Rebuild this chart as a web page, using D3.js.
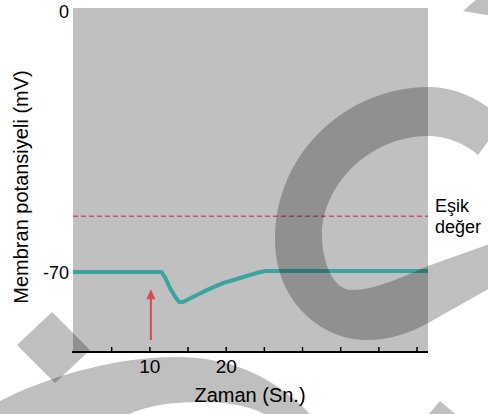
<!DOCTYPE html>
<html><head><meta charset="utf-8">
<script src="https://cdn.jsdelivr.net/npm/d3@7"></script>
<style>body{margin:0;background:#fff} svg{display:block;font-family:"Liberation Sans",Arial,sans-serif}</style>
</head><body><svg id="c" width="488" height="414"></svg>
<script>
// ---- data ----
const timeS       = [0, 11.6, 12.1, 12.7, 13.4, 13.9, 14.5, 15.7, 17.6, 19.7, 21.9, 24.1, 25.2, 46.5];
const potentialMV = [-70, -70, -71.6, -74.3, -76.7, -78.1, -78.0, -76.7, -74.8, -72.9, -71.6, -70.2, -69.7, -69.7];
const thresholdMV = -55;
const stimulusTime = 10.2;
const stimulusRange = [-88.3, -74.6];
const xTicks = [5, 10, 15, 20, 25, 30, 35, 40, 45];
const xTickLabels = ["", "10", "", "20", "", "", "", "", ""];
const yTicks = [0, -70];
const yTickLabels = ["0", "-70"];
const thresholdLabel = ["Eşik", "değer"];
const xTitle = "Zaman (Sn.)";
const yTitle = "Membran potansiyeli (mV)";

// ---- layout ----
const svg = d3.select("#c");
const L = 73, R = 428, T = 8, B = 352;
const x = d3.scaleLinear().domain([0, 46.5]).range([L, R]);
const y = d3.scaleLinear().domain([-91.5, 1]).range([B, T]);

svg.append("rect").attr("x", L).attr("y", T).attr("width", R - L).attr("height", B - T).attr("fill", "#c0c0c0");

// threshold
svg.append("line").attr("x1", x(0)).attr("x2", x(46.5)).attr("y1", y(thresholdMV)).attr("y2", y(thresholdMV))
  .attr("stroke", "#c8505c").attr("stroke-width", 1.5).attr("stroke-dasharray", "5,3");

// potential trace
const pts = timeS.map((t, i) => [t, potentialMV[i]]);
svg.append("path").datum(pts)
  .attr("d", d3.line().x(d => x(d[0])).y(d => y(d[1])))
  .attr("fill", "none").attr("stroke", "#3aa59d").attr("stroke-width", 4).attr("stroke-linejoin", "round");

// stimulus arrow
const ax = x(stimulusTime), ay0 = y(stimulusRange[0]), ay1 = y(stimulusRange[1]);
svg.append("line").attr("x1", ax).attr("x2", ax).attr("y1", ay0).attr("y2", ay1 + 6)
  .attr("stroke", "#d64a55").attr("stroke-width", 2);
svg.append("path").attr("d", d3.line()([[ax, ay1], [ax - 4.5, ay1 + 10], [ax + 4.5, ay1 + 10]]) + "Z")
  .attr("fill", "#d64a55");

// x axis
const xa = svg.append("g").attr("transform", `translate(0,${B})`)
  .call(d3.axisBottom(x).tickValues(xTicks).tickSizeInner(-5).tickSizeOuter(0)
    .tickFormat((d, i) => xTickLabels[i]));
xa.select(".domain").attr("stroke", "#000").attr("stroke-width", 2).attr("d", `M${L - 1},0H${R}`);
xa.selectAll(".tick line").attr("stroke", "#000").attr("stroke-width", 1.5);
xa.selectAll(".tick text").attr("y", 8).attr("font-size", 19).attr("font-family", "Liberation Sans, Arial, sans-serif").attr("fill", "#000");

// y labels
svg.selectAll("text.yl").data(yTicks).join("text").attr("class", "yl")
  .attr("x", 69).attr("y", d => y(d)).attr("dy", "0.36em").attr("text-anchor", "end")
  .attr("font-size", 18).text((d, i) => yTickLabels[i]);

// threshold label
svg.selectAll("text.th").data(thresholdLabel).join("text").attr("class", "th")
  .attr("x", 435).attr("y", (d, i) => 212 + i * 21).attr("font-size", 18).text(d => d);

// titles
svg.append("text").attr("x", 250).attr("y", 402).attr("text-anchor", "middle").attr("font-size", 20).text(xTitle);
svg.append("text").attr("transform", "translate(28,187) rotate(-90)").attr("text-anchor", "middle")
  .attr("font-size", 20).text(yTitle);

// ---- decorative watermark overlay ----
const wm = svg.append("g").attr("fill", "#000").attr("fill-opacity", 0.25);
const watermark = [
  "M492,110 C470,94 450,87 428,87 C350,87 275,150 275,240 C275,300 320,340 367,340 C390,340 410,333 428,323 L492,287 L492,243 L428,266 C400,278 375,290 352,290 C333,290 322,262 322,235 C322,185 370,136 428,136 C445,136 465,143 478,155 L492,136 Z",
  "M52,312 L90,350 L55,383 L17,345 Z",
  "M-2,402 C40,380 110,357 175,357 C225,357 270,372 312,416 L268,416 C250,405 225,402 200,402 C170,402 145,406 125,416 L-2,416 Z",
  "M427,416 L440,401 L492,445 L492,416 Z",
  "M463,11 L478,-2 L492,-2 L492,16 Z"
];
wm.selectAll("path").data(watermark).join("path").attr("d", d => d);
</script>
</body></html>
